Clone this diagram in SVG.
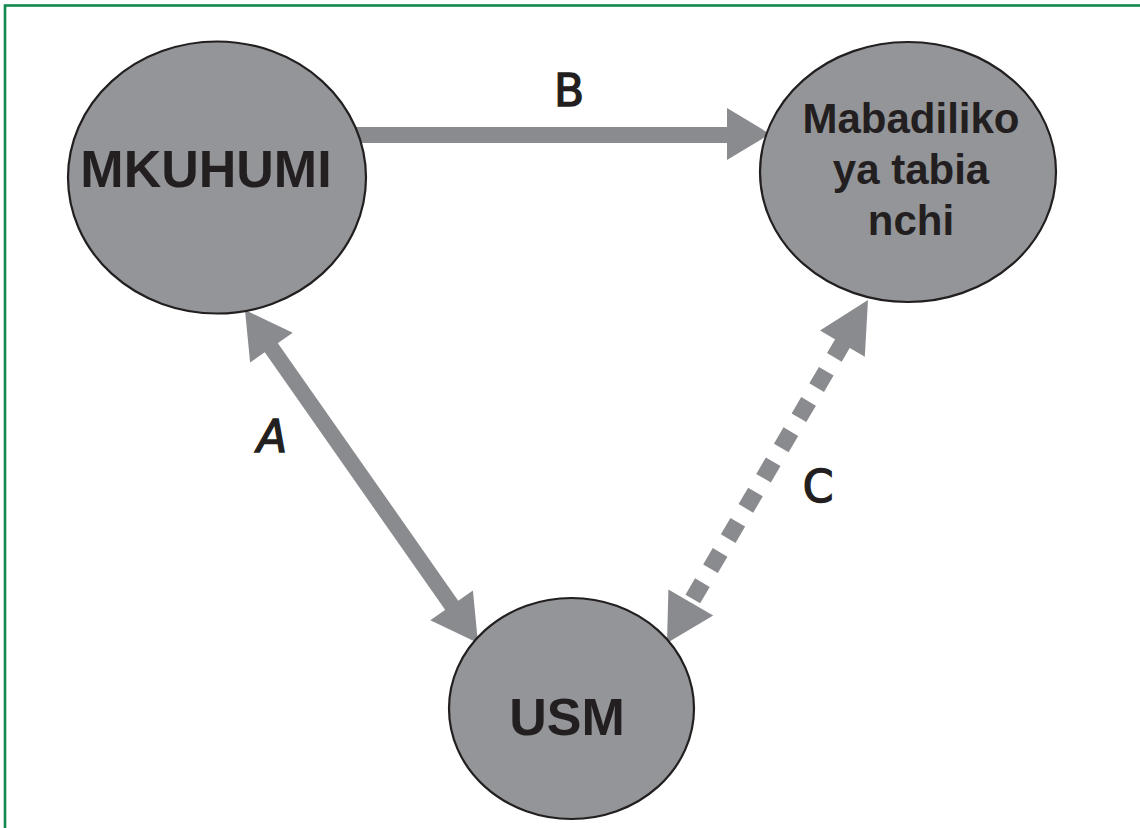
<svg xmlns="http://www.w3.org/2000/svg" width="1140" height="828" viewBox="0 0 1140 828">
  <style>
    .node { fill: #939598; stroke: #231f20; stroke-width: 2.2; }
    .ntext { font-family: "Liberation Sans", Arial, sans-serif; font-weight: bold; fill: #231f20; text-anchor: middle; }
    .lbl { font-family: "DejaVu Sans", sans-serif; font-size: 44px; fill: #231f20; stroke: #231f20; stroke-width: 1.4; text-anchor: middle; }
    .shaft { stroke: #8a8b8e; stroke-width: 16; fill: none; }
    .dash { stroke: #8a8b8e; stroke-width: 17; fill: none; stroke-dasharray: 19 16; }
    .head { fill: #8a8b8e; }
  </style>
  <rect x="0" y="0" width="1140" height="828" fill="#ffffff"/>
  <rect x="5" y="5.5" width="1300" height="1000" fill="none" stroke="#12884f" stroke-width="2.6"/>

  <g id="connectors">
    <!-- B -->
    <line class="shaft" x1="350" y1="135" x2="729" y2="135"/>
    <polygon class="head" points="727,108 770,134 727,160"/>
    <!-- A -->
    <line class="shaft" x1="268" y1="343" x2="455" y2="610"/>
    <polygon class="head" points="245,310 292.7,332.8 250.1,362.6"/>
    <polygon class="head" points="478,643 472.9,590.4 430.3,620.2"/>
    <!-- C -->
    <line class="dash" x1="692.8" y1="599" x2="849" y2="332.4"/>
    <polygon class="head" points="868,300 864.8,356.7 820,330.5"/>
    <polygon class="head" points="667,643 713.2,615.6 668.4,589.4"/>
    <text class="lbl" x="569" y="106">B</text>
    <text class="lbl" x="272" y="452" font-style="italic">A</text>
    <text class="lbl" x="818" y="502">C</text>
  </g>

  <g id="node-mkuhumi">
    <ellipse class="node" cx="217" cy="177.5" rx="149" ry="136"/>
    <text class="ntext" x="206" y="187" font-size="52">MKUHUMI</text>
  </g>

  <g id="node-mabadiliko">
    <ellipse class="node" cx="908" cy="172" rx="148" ry="130"/>
    <text class="ntext" x="911" y="133" font-size="42">Mabadiliko</text>
    <text class="ntext" x="911" y="184" font-size="42">ya tabia</text>
    <text class="ntext" x="911" y="235" font-size="42">nchi</text>
  </g>

  <g id="node-usm">
    <ellipse class="node" cx="571.5" cy="708.5" rx="122.5" ry="110.5"/>
    <text class="ntext" x="567" y="735" font-size="52">USM</text>
  </g>
</svg>
